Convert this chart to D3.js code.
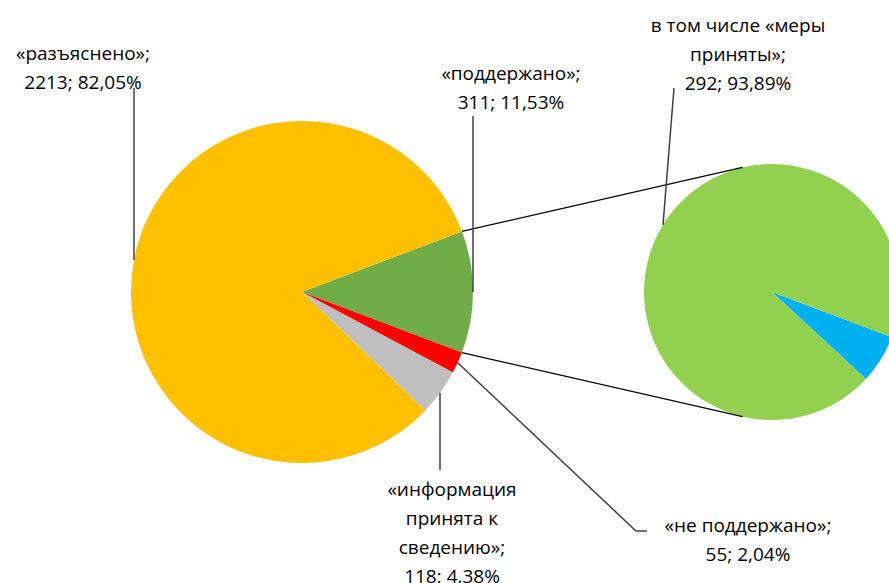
<!DOCTYPE html>
<html>
<head>
<meta charset="utf-8">
<script src="https://cdn.jsdelivr.net/npm/d3@7"></script>
<style>
  body { margin: 0; background: #fff; }
  text { font-family: "Open Sans", "Noto Sans", sans-serif; font-size: 19px; fill: #000; }
</style>
</head>
<body>
<svg id="chart" width="889" height="583"></svg>
<script>
// main pie, in drawing order (split slice first)
var main_names    = ["«поддержано»", "«не поддержано»", "«информация принята к сведению»", "«разъяснено»"];
var main_values   = [311, 55, 118, 2213];
var main_percents = ["11,53%", "2,04%", "4,38%", "82,05%"];
var main_colors   = ["#70AD47", "#FF0000", "#BFBFBF", "#FFC000"];

// secondary pie (breakdown of «поддержано»)
var sub_names    = ["", "в том числе «меры приняты»"];
var sub_values   = [19, 292];
var sub_percents = ["6,11%", "93,89%"];
var sub_colors   = ["#00B0F0", "#92D050"];

// label text broken into lines, as in the original
var main_label_lines = [
  ["«поддержано»;", "311; 11,53%"],
  ["«не поддержано»;", "55; 2,04%"],
  ["«информация", "принята к", "сведению»;", "118; 4,38%"],
  ["«разъяснено»;", "2213; 82,05%"]
];
var sub_label_lines = [[], ["в том числе «меры", "приняты»;", "292; 93,89%"]];

var svg = d3.select("#chart");

var MAIN = { cx: 302, cy: 292, r: 171 };
var SUB  = { cx: 772, cy: 292, r: 128 };
var LINE_H = 29;

var total = d3.sum(main_values);
var half_split = Math.PI * main_values[0] / total;

function pt(c, r, a) {
  return [c.cx + r * Math.sin(a), c.cy - r * Math.cos(a)];
}

// --- main pie
var main_pie = d3.pie().sort(null).value(function (d) { return d; })
  .startAngle(Math.PI / 2 - half_split)
  .endAngle(Math.PI / 2 - half_split + 2 * Math.PI);
var main_arcs = main_pie(main_values);
var arc_main = d3.arc().innerRadius(0).outerRadius(MAIN.r);

svg.append("g")
  .attr("transform", "translate(" + MAIN.cx + "," + MAIN.cy + ")")
  .selectAll("path")
  .data(main_arcs)
  .enter().append("path")
  .attr("d", arc_main)
  .attr("fill", function (d, i) { return main_colors[i]; });

// --- secondary pie
var sub_pie = d3.pie().sort(null).value(function (d) { return d; })
  .startAngle(Math.PI / 2 + half_split)
  .endAngle(Math.PI / 2 + half_split + 2 * Math.PI);
var sub_arcs = sub_pie(sub_values);
var arc_sub = d3.arc().innerRadius(0).outerRadius(SUB.r);

svg.append("g")
  .attr("transform", "translate(" + SUB.cx + "," + SUB.cy + ")")
  .selectAll("path")
  .data(sub_arcs)
  .enter().append("path")
  .attr("d", arc_sub)
  .attr("fill", function (d, i) { return sub_colors[i]; });

// --- connector lines between the pies
var conn_angle = 13.3 * Math.PI / 180;
var connectors = [
  [pt(MAIN, MAIN.r, main_arcs[0].startAngle), pt(SUB, SUB.r, -conn_angle)],
  [pt(MAIN, MAIN.r, main_arcs[0].endAngle), pt(SUB, SUB.r, Math.PI + conn_angle)]
];
svg.append("g").selectAll("line")
  .data(connectors)
  .enter().append("line")
  .attr("x1", function (d) { return d[0][0]; })
  .attr("y1", function (d) { return d[0][1]; })
  .attr("x2", function (d) { return d[1][0]; })
  .attr("y2", function (d) { return d[1][1]; })
  .attr("stroke", "#000")
  .attr("stroke-width", 1.2);

// --- labels: centre x, first line y, leader polyline
function circle_y_at(c, x, sign) {
  var dx = x - c.cx;
  return c.cy + sign * Math.sqrt(c.r * c.r - dx * dx);
}

var mid = function (d) { return (d.startAngle + d.endAngle) / 2; };

var labels = [
  { lines: main_label_lines[3], x: 83, y: 53,
    leader: [[134, 88], [134, circle_y_at(MAIN, 134, -1)]] },
  { lines: main_label_lines[0], x: 511, y: 73,
    leader: [[pt(MAIN, MAIN.r, mid(main_arcs[0]))[0], 116], pt(MAIN, MAIN.r, mid(main_arcs[0]))] },
  { lines: main_label_lines[2], x: 452, y: 489,
    leader: [[440, circle_y_at(MAIN, 440, 1)], [440, 470]] },
  { lines: main_label_lines[1], x: 748, y: 525,
    leader: [pt(MAIN, MAIN.r, mid(main_arcs[1])), [636, 531], [647, 531]] },
  { lines: sub_label_lines[1], x: 738, y: 25,
    leader: [[674, 88], [663, circle_y_at(SUB, 663, -1)]] }
];

var line_gen = d3.line();

svg.append("g").selectAll("path")
  .data(labels)
  .enter().append("path")
  .attr("d", function (d) { return line_gen(d.leader); })
  .attr("fill", "none")
  .attr("stroke", "#404040")
  .attr("stroke-width", 1.5);

var lab = svg.append("g").selectAll("text")
  .data(labels)
  .enter().append("text")
  .attr("text-anchor", "middle")
  .attr("dominant-baseline", "central");

lab.selectAll("tspan")
  .data(function (d) {
    return d.lines.map(function (t, i) { return { t: t, x: d.x, y: d.y + i * LINE_H }; });
  })
  .enter().append("tspan")
  .attr("x", function (d) { return d.x; })
  .attr("y", function (d) { return d.y; })
  .text(function (d) { return d.t; });
</script>
</body>
</html>
